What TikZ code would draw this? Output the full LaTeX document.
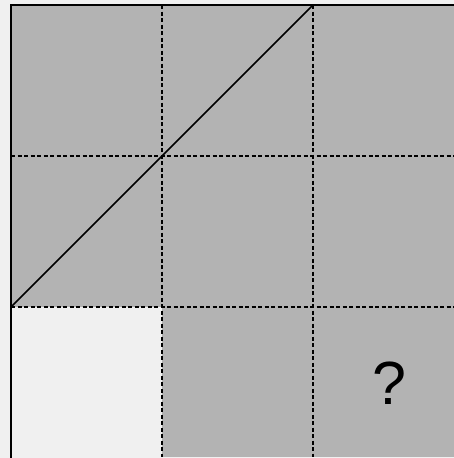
\documentclass[tikz,border=0pt]{standalone}
\usepackage{fontspec}
\setmainfont{Liberation Sans}
\begin{document}
\begin{tikzpicture}[x=1pt,y=-1pt,
  gridline/.style={line width=1.4pt,dash pattern=on 4pt off 2.5pt,black},
  frame/.style={line width=2pt,black},
  diag/.style={line width=1.5pt,black}]
\definecolor{bggrey}{HTML}{F0F0F0}
\definecolor{cellgrey}{HTML}{B3B3B3}
\useasboundingbox (0,0) rectangle (454,458);
\clip (0,0) rectangle (454,458);
\fill[bggrey] (0,0) rectangle (454,458);
\fill[cellgrey] (11,5) rectangle (464,307);
\fill[cellgrey] (162,307) rectangle (464,457);
\draw[gridline] (162,5) -- (162,457);
\draw[gridline] (313,5) -- (313,457);
\draw[gridline] (11,156) -- (464,156);
\draw[gridline] (11,307) -- (464,307);
\draw[diag] (11,307) -- (313,5);
\draw[frame] (11,5) rectangle (464,460);
\node[font=\fontsize{61}{61}\selectfont, inner sep=0pt] (q) at (389,383) {?};
\end{tikzpicture}
\end{document}
